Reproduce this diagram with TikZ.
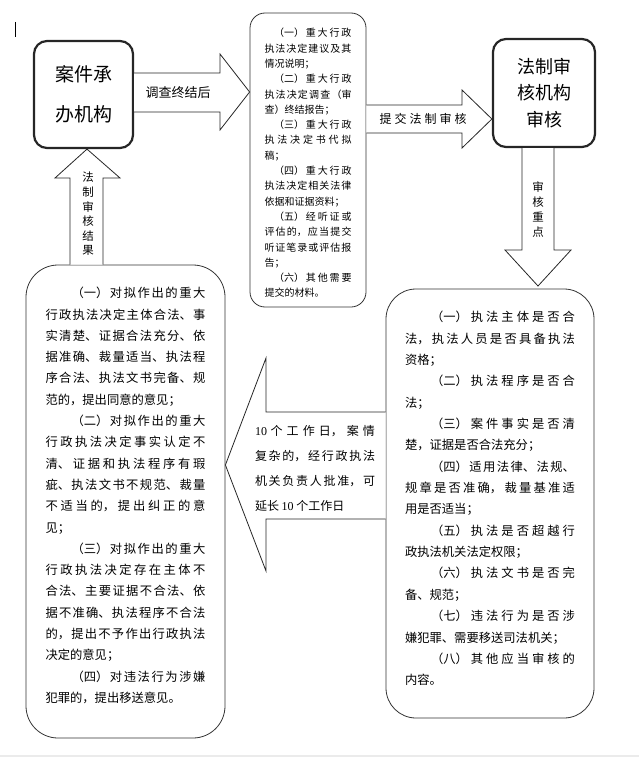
\documentclass[tikz,border=0pt]{standalone}
\usepackage{fontspec}
\setmainfont{Liberation Serif}
\newfontfamily\cjk{Noto Sans CJK SC}
\newfontfamily\cjkwide[LetterSpace=25]{Noto Sans CJK SC}
\usetikzlibrary{calc}

\XeTeXlinebreaklocale "zh"
\XeTeXlinebreakskip=0pt plus 6pt
\setlength{\parindent}{0pt}

\tikzset{
  unit/.style={draw=black!85, line width=2.2pt, rounded corners=13pt, align=center, inner sep=0pt},
  list/.style={draw=black!80, line width=0.8pt, inner sep=0pt},
  listtext/.style={align=justify, inner sep=0pt},
  block/.style={draw=black!85, line width=0.8pt, fill=white, line join=miter},
  tag/.style={inner sep=0pt, align=center},
}

\begin{document}
\begin{tikzpicture}[x=1pt, y=-1pt]
  \useasboundingbox (0,0) rectangle (639,757);
  \def\gap{26pt}
  \def\gapsmall{9.5pt}

  % top row: units and the list of papers
  \node[unit, minimum width=99pt, minimum height=107pt, font={\fontsize{19}{40}\cjk}] (organ) at (83.5,94.5) {案件承\\办机构};
  \node[list, rounded corners=15pt, minimum width=116pt, minimum height=294pt] (docs) at (308,160) {};
  \node[unit, minimum width=102pt, minimum height=108pt, font={\fontsize{18}{26.5}\cjk}] (review) at (544,93) {法制审\\核机构\\审核};

  \node[listtext, text width=87pt, font={\fontsize{10}{15.3}\cjk}] (docstext) at ($(docs.center)+(0,3)$) {%
    \hspace*{\gapsmall}（一）重大行政\linebreak 执法决定建议及其\linebreak 情况说明；\par
    \hspace*{\gapsmall}（二）重大行政\linebreak 执法决定调查（审\linebreak 查）终结报告；\par
    \hspace*{\gapsmall}（三）重大行政\linebreak 执法决定书代拟\linebreak 稿；\par
    \hspace*{\gapsmall}（四）重大行政\linebreak 执法决定相关法律\linebreak 依据和证据资料；\par
    \hspace*{\gapsmall}（五）经听证或\linebreak 评估的，应当提交\linebreak 听证笔录或评估报\linebreak 告；\par
    \hspace*{\gapsmall}（六）其他需要\linebreak 提交的材料。};

  % bottom row: review points and results
  \node[list, rounded corners=30pt, minimum width=208pt, minimum height=429pt] (points) at (490,503.5) {};
  \node[list, rounded corners=32pt, minimum width=199pt, minimum height=473pt] (result) at (125.5,501.5) {};

  \node[listtext, text width=170pt, font={\fontsize{12.3}{21.35}\cjk}] (pointstext) at ($(points.center)+(0,-5)$) {%
    \hspace*{\gap}（一）执法主体是否合\linebreak 法，执法人员是否具备执法\linebreak 资格；\par
    \hspace*{\gap}（二）执法程序是否合\linebreak 法；\par
    \hspace*{\gap}（三）案件事实是否清\linebreak 楚，证据是否合法充分；\par
    \hspace*{\gap}（四）适用法律、法规、\linebreak 规章是否准确，裁量基准适\linebreak 用是否适当；\par
    \hspace*{\gap}（五）执法是否超越行\linebreak 政执法机关法定权限；\par
    \hspace*{\gap}（六）执法文书是否完\linebreak 备、规范；\par
    \hspace*{\gap}（七）违法行为是否涉\linebreak 嫌犯罪、需要移送司法机关；\par
    \hspace*{\gap}（八）其他应当审核的\linebreak 内容。};

  \node[listtext, text width=160pt, font={\fontsize{12.3}{21.3}\cjk}] (resulttext) at ($(result.center)+(0,-6)$) {%
    \hspace*{\gap}（一）对拟作出的重大\linebreak 行政执法决定主体合法、事\linebreak 实清楚、证据合法充分、依\linebreak 据准确、裁量适当、执法程\linebreak 序合法、执法文书完备、规\linebreak 范的，提出同意的意见；\par
    \hspace*{\gap}（二）对拟作出的重大\linebreak 行政执法决定事实认定不\linebreak 清、证据和执法程序有瑕\linebreak 疵、执法文书不规范、裁量\linebreak 不适当的，提出纠正的意\linebreak 见；\par
    \hspace*{\gap}（三）对拟作出的重大\linebreak 行政执法决定存在主体不\linebreak 合法、主要证据不合法、依\linebreak 据不准确、执法程序不合法\linebreak 的，提出不予作出行政执法\linebreak 决定的意见；\par
    \hspace*{\gap}（四）对违法行为涉嫌\linebreak 犯罪的，提出移送意见。};

  % block arrows
  \draw[block] (organ.east |- 0,73) -- (220,73) -- (220,54) -- (docs.west |- 0,92)
    -- (220,130) -- (220,112) -- (organ.east |- 0,112);
  \draw[block] (docs.east |- 0,105) -- (462,105) -- (462,90) -- (review.west |- 0,119)
    -- (462,148) -- (462,133) -- (docs.east |- 0,133);
  \draw[block] (522,0 |- review.south) -- (522,250) -- (505,250) -- (538,286)
    -- (571,250) -- (554,250) -- (554,0 |- review.south);
  \draw[block] (points.west |- 0,412) -- (266,412) -- (266,358) -- (result.east |- 0,465)
    -- (266,571) -- (266,519) -- (points.west |- 0,519);
  \draw[block] (70,0 |- result.north) -- (70,178) -- (55,178) -- (87,0 |- organ.south)
    -- (120,178) -- (103,178) -- (103,0 |- result.north);

  % arrow labels
  \node[tag, font={\fontsize{13}{13}\cjk}] (endlabel) at (178,93) {调查终结后};
  \node[tag, font={\fontsize{12}{12}\cjkwide}] (sendlabel) at (423,119) {提交法制审核};
  \node[tag, font={\fontsize{11.5}{15}\cjk}] (pointlabel) at (538,210) {审\\核\\重\\点};
  \node[tag, font={\fontsize{11.5}{14.6}\cjk}] (resultlabel) at (88,214) {法\\制\\审\\核\\结\\果};
  \node[listtext, text width=120pt, font={\fontsize{12}{25}\cjk}] (daylabel) at (315,468) {%
    {\rmfamily 10} 个工作日，案情\linebreak 复杂的，经行政执法\linebreak 机关负责人批准，可\linebreak 延长 {\rmfamily 10} 个工作日};

  % cursor mark and page edge
  \draw[line width=1.6pt] (15.5,22) -- (15.5,37);
  \fill[black!8] (0,755) rectangle (639,757);
\end{tikzpicture}
\end{document}
